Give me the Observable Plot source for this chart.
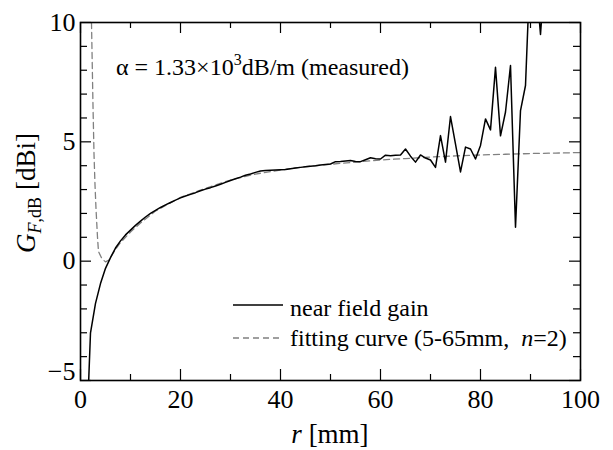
<!DOCTYPE html>
<html>
<head>
<meta charset="utf-8">
<script src="https://cdn.jsdelivr.net/npm/d3@7"></script>
<script src="https://cdn.jsdelivr.net/npm/@observablehq/plot@0.6"></script>
<style>
  html, body { margin: 0; padding: 0; background: #fff; }
  svg, svg text, svg tspan { font-family: "Liberation Serif", "DejaVu Serif", "Noto Serif", serif !important; }
</style>
</head>
<body>
<div id="chart"></div>
<script>
// measured near field gain (r in mm, G in dBi)
const rMeasured = [1,2,3,4,5,6,7,8,9,10,11,12,13,14,15,16,17,18,19,20,
  21,22,23,24,25,26,27,28,29,30,31,32,33,34,35,36,37,38,39,40,
  41,42,43,44,45,46,47,48,49,50,51,52,53,54,55,56,57,58,59,60,
  61,62,63,64,65,66,67,68,69,70,71,72,73,74,75,76,77,78,79,80,
  81,82,83,84,85,86,87,88,89,90,91,92,93,94,95,96,97,98,99,100];
const gMeasured = [-8.5,-3.0,-1.77,-0.94,-0.3,0.15,0.55,0.85,1.1,1.3,1.5,1.68,1.85,2.0,2.13,2.25,2.36,2.46,2.56,2.65,
  2.73,2.8,2.87,2.95,3.02,3.08,3.15,3.22,3.3,3.38,3.45,3.52,3.6,3.65,3.72,3.78,3.8,3.81,3.82,3.83,
  3.84,3.87,3.9,3.93,3.96,3.98,4.0,4.03,4.05,4.07,4.17,4.18,4.2,4.22,4.18,4.17,4.25,4.33,4.29,4.28,
  4.44,4.42,4.44,4.45,4.7,4.4,4.15,4.45,4.32,4.24,3.93,5.26,4.15,6.06,4.9,3.74,4.78,4.7,4.28,4.85,
  5.96,5.5,8.12,5.25,6.25,8.2,1.42,6.31,7.36,12.7,12,9.5,12.5,13,12,14,13,15,13,14];

// fitting curve (5-65 mm, n = 2)
const rFit = [2.2,2.5,2.7,2.9,3.1,3.4,3.6,4.3,5.0,5.7,7,8,10,12,15,20,25,30,35,40,45,50,55,60,65,70,75,80,85,90,95,100];
const gFit = [10,6.5,4.5,3.2,2.2,1.0,0.4,0.1,-0.03,0.05,0.5,0.78,1.22,1.6,2.1,2.67,3.05,3.4,3.65,3.82,3.96,4.06,4.15,4.24,4.3,4.36,4.41,4.45,4.48,4.51,4.53,4.55];

const xMajor = [0,20,40,60,80,100];
const xMinor = [10,30,50,70,90];
const yMajor = [10,5,0,-5];
const yMinor = [-4,-3,-2,-1,1,2,3,4,6,7,8,9];

const measured = rMeasured.map((r,i) => ({r, g: gMeasured[i]}));
const fit = rFit.map((r,i) => ({r, g: gFit[i]}));

const W = 613, H = 450, mL = 80, mR = 33, mT = 22, mB = 70;
const plotW = W - mL - mR, plotH = H - mT - mB;
const majLen = 11, minLen = 6;
const tickFont = 26;
const serif = "Liberation Serif, DejaVu Serif, Noto Serif, serif";

const plot = Plot.plot({
  width: W,
  height: H,
  marginLeft: mL,
  marginRight: mR,
  marginTop: mT,
  marginBottom: mB,
  style: {background: "#fff", color: "#000"},
  x: {domain: [0,100], axis: null},
  y: {domain: [-5,10], axis: null},
  marks: [
    Plot.line(fit, {x: "r", y: "g", stroke: "#808080", strokeWidth: 1.3, strokeDasharray: "6,4", clip: true}),
    Plot.line(measured, {x: "r", y: "g", stroke: "#000", strokeWidth: 1.5, clip: true}),
    // inward ticks on all four sides
    Plot.tickX(xMajor, {x: d => d, insetTop: plotH - majLen, stroke: "#000", strokeWidth: 1.2}),
    Plot.tickX(xMinor, {x: d => d, insetTop: plotH - minLen, stroke: "#000", strokeWidth: 1.2}),
    Plot.tickX(xMajor, {x: d => d, insetBottom: plotH - majLen, stroke: "#000", strokeWidth: 1.2}),
    Plot.tickX(xMinor, {x: d => d, insetBottom: plotH - minLen, stroke: "#000", strokeWidth: 1.2}),
    Plot.tickY(yMajor, {y: d => d, insetRight: plotW - majLen, stroke: "#000", strokeWidth: 1.2}),
    Plot.tickY(yMinor, {y: d => d, insetRight: plotW - minLen - 1, stroke: "#000", strokeWidth: 1.2}),
    Plot.tickY(yMajor, {y: d => d, insetLeft: plotW - majLen, stroke: "#000", strokeWidth: 1.2}),
    Plot.tickY(yMinor, {y: d => d, insetLeft: plotW - minLen - 1, stroke: "#000", strokeWidth: 1.2}),
    // tick labels
    Plot.axisX({anchor: "bottom", ticks: xMajor, tickSize: 0, tickPadding: 9, fontSize: tickFont, label: null}),
    Plot.axisY({anchor: "left", ticks: [10,5,0], tickSize: 0, tickPadding: 5, fontSize: tickFont, label: null}),
    Plot.axisY({anchor: "left", ticks: [-5], tickSize: 0, tickPadding: 5, dy: -9, fontSize: tickFont, label: null}),
    Plot.frame({stroke: "#000", strokeWidth: 1.6})
  ]
});
document.getElementById("chart").appendChild(plot);
d3.select(plot).attr("font-family", serif).style("font-family", serif);
d3.select(plot).selectAll("text, g").attr("font-family", serif);

// rich-text labels, legend and annotation
const svg = d3.select(plot);
const xs = plot.scale("x"), ys = plot.scale("y");
const x0 = xs.range[0], x1 = xs.range[1];
const yTop = ys.range[1], yBot = ys.range[0];

// x axis title
const xt = svg.append("text")
  .attr("x", (x0 + x1) / 2).attr("y", 443).attr("font-family", serif)
  .attr("text-anchor", "middle").attr("font-size", 27).attr("fill", "#000");
xt.append("tspan").attr("font-style", "italic").text("r");
xt.append("tspan").text(" [mm]");

// y axis title
const yt = svg.append("text")
  .attr("transform", `translate(35,${(yTop + yBot) / 2 - 8}) rotate(-90)`).attr("font-family", serif)
  .attr("text-anchor", "middle").attr("font-size", 27).attr("fill", "#000");
yt.append("tspan").attr("font-style", "italic").text("G");
yt.append("tspan").attr("font-style", "italic").attr("font-size", 18).attr("dy", 6).text("F");
yt.append("tspan").attr("font-size", 18).text(",dB");
yt.append("tspan").attr("dy", -6).text(" [dBi]");

// annotation
const an = svg.append("text")
  .attr("x", 116).attr("y", 75).attr("font-size", 24).attr("fill", "#000")
  .attr("font-family", serif).attr("text-anchor", "start");
an.append("tspan").text("α = 1.33×10");
an.append("tspan").attr("font-size", 16).attr("dy", -10).text("3");
an.append("tspan").attr("dy", 10).text("dB/m (measured)");

// legend
const lg = svg.append("g").attr("text-anchor", "start").attr("font-family", serif);
lg.append("line").attr("x1", 233).attr("x2", 283).attr("y1", 305).attr("y2", 305)
  .attr("stroke", "#000").attr("stroke-width", 1.5);
lg.append("text").attr("x", 290).attr("y", 316).attr("font-size", 24).attr("fill", "#000")
  .attr("text-anchor", "start").text("near field gain");
lg.append("line").attr("x1", 233).attr("x2", 283).attr("y1", 338).attr("y2", 338)
  .attr("stroke", "#808080").attr("stroke-width", 1.3).attr("stroke-dasharray", "6,4");
const l2 = lg.append("text").attr("x", 290).attr("y", 346).attr("font-size", 24).attr("fill", "#000")
  .attr("text-anchor", "start").attr("xml:space", "preserve");
l2.append("tspan").text("fitting curve (5-65mm,  ");
l2.append("tspan").attr("font-style", "italic").text("n");
l2.append("tspan").text("=2)");
</script>
</body>
</html>
